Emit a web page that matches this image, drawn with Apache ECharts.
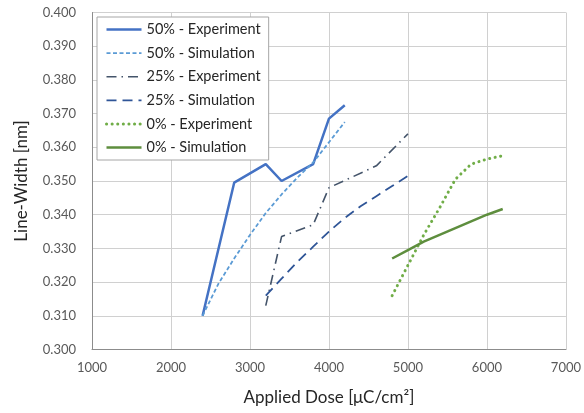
<!DOCTYPE html>
<html>
<head>
<meta charset="utf-8">
<script src="https://cdn.jsdelivr.net/npm/echarts@6/dist/echarts.min.js"></script>
<style>
  html, body { margin: 0; padding: 0; background: #fff; }
  #chart { width: 584px; height: 413px; }
</style>
</head>
<body>
<div id="chart"></div>
<script>
// doses in uC/cm2, widths in nm
const exp50Dose = [2400, 2800, 3200, 3400, 3800, 4000, 4200]
const exp50Width = [0.310, 0.3495, 0.355, 0.350, 0.355, 0.3685, 0.3725]

const sim50Dose = [2400, 2600, 2800, 3000, 3200, 3400, 3600, 3800, 4000, 4200]
const sim50Width = [0.310, 0.3195, 0.327, 0.334, 0.3405, 0.346, 0.351, 0.3555, 0.3615, 0.3675]

const exp25Dose = [3200, 3400, 3800, 4000, 4600, 5000]
const exp25Width = [0.313, 0.3335, 0.337, 0.348, 0.3545, 0.364]

const sim25Dose = [3200, 3400, 3600, 3800, 4000, 4200, 4400, 4600, 4800, 5000]
const sim25Width = [0.316, 0.321, 0.326, 0.3305, 0.335, 0.339, 0.3425, 0.3455, 0.3485, 0.3515]

const exp0Dose = [4800, 5000, 5200, 5400, 5600, 5800, 6000, 6200]
const exp0Width = [0.316, 0.325, 0.334, 0.342, 0.3505, 0.355, 0.3565, 0.3575]

const sim0Dose = [4800, 5000, 5200, 5400, 5600, 5800, 6000, 6200]
const sim0Width = [0.327, 0.3295, 0.332, 0.334, 0.336, 0.338, 0.340, 0.3417]

const pairs = (xs, ys) => xs.map((x, i) => [x, ys[i]])

const font = 'Lato, "Open Sans", sans-serif'

function line(name, xs, ys, color, width, type, cap) {
    return {
        name: name,
        type: 'line',
        symbol: 'none',
        data: pairs(xs, ys),
        lineStyle: { color: color, width: width, type: type, cap: cap || 'butt' },
        itemStyle: { color: color },
        z: 3
    }
}

var myChart = echarts.init(document.getElementById('chart'))
const option = {
    animation: false,
    textStyle: { fontFamily: font },
    grid: {
        left: 92,
        right: 16,
        top: 12.5,
        bottom: 63.5
    },
    legend: {
        orient: 'vertical',
        left: 97,
        top: 17,
        itemWidth: 35,
        itemHeight: 14,
        itemGap: 8.6,
        padding: [5, 8, 5, 8],
        borderColor: '#a6a6a6',
        borderWidth: 1,
        backgroundColor: '#fff',
        // hide the circle marker, keep only the line sample
        itemStyle: { color: 'rgba(0,0,0,0)', borderWidth: 0, opacity: 0 },
        lineStyle: { opacity: 1, width: 'inherit' },
        textStyle: { fontFamily: font, fontSize: 14.5, color: '#262626' },
        data: ['50% - Experiment', '50% - Simulation', '25% - Experiment',
            '25% - Simulation', '0% - Experiment', '0% - Simulation']
    },
    xAxis: {
        type: 'value',
        min: 1000,
        max: 7000,
        interval: 1000,
        name: 'Applied Dose [μC/cm²]',
        nameLocation: 'middle',
        nameGap: 40,
        nameTextStyle: { fontFamily: font, fontSize: 17, color: '#262626' },
        axisLine: { lineStyle: { color: '#8c8c8c', width: 1 } },
        axisTick: { show: false },
        axisLabel: {
            fontFamily: font, fontSize: 13, color: '#595959', margin: 12,
            formatter: v => String(v)
        },
        splitLine: { lineStyle: { color: '#d0d0d0', width: 1 } }
    },
    yAxis: {
        type: 'value',
        min: 0.3,
        max: 0.4,
        interval: 0.01,
        name: 'Line-Width [nm]',
        nameLocation: 'middle',
        nameGap: 62,
        nameTextStyle: { fontFamily: font, fontSize: 17, color: '#262626' },
        axisLine: { show: true, lineStyle: { color: '#8c8c8c', width: 1 } },
        axisTick: { show: false },
        axisLabel: {
            fontFamily: font, fontSize: 13, color: '#595959', margin: 16,
            formatter: v => v.toFixed(3)
        },
        splitLine: { lineStyle: { color: '#d0d0d0', width: 1 } }
    },
    series: [
        line('50% - Experiment', exp50Dose, exp50Width, '#4472C4', 2.5, 'solid'),
        line('50% - Simulation', sim50Dose, sim50Width, '#5B9BD5', 1.8, [4, 2.5]),
        line('25% - Experiment', exp25Dose, exp25Width, '#44546A', 1.6, [10, 5, 1.5, 5]),
        line('25% - Simulation', sim25Dose, sim25Width, '#2F5597', 1.8, [10, 6]),
        line('0% - Experiment', exp0Dose, exp0Width, '#70AD47', 3, [0.1, 5.5], 'round'),
        line('0% - Simulation', sim0Dose, sim0Width, '#5E8E3E', 2.5, 'solid')
    ]
}
myChart.setOption(option)
</script>
</body>
</html>
